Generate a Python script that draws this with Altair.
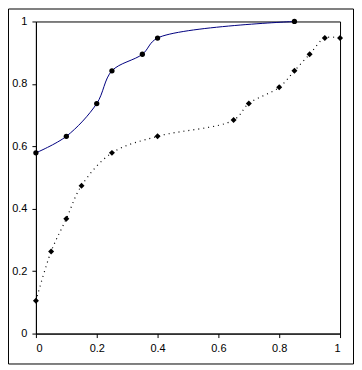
import altair as alt
import pandas as pd

# Series 1: solid navy, circle markers
s1_x = [0.0, 0.1, 0.2, 0.25, 0.35, 0.4, 0.85]
s1_y = [0.579, 0.632, 0.737, 0.842, 0.895, 0.947, 1.0]

# Series 2: dotted black, diamond markers
s2_x = [0.0, 0.05, 0.1, 0.15, 0.25, 0.4, 0.65, 0.7, 0.8, 0.85, 0.9, 0.95, 1.0]
s2_y = [0.105, 0.263, 0.368, 0.474, 0.579, 0.632, 0.684, 0.737, 0.789, 0.842, 0.895, 0.947, 0.947]

ticks = [0, 0.2, 0.4, 0.6, 0.8, 1]

df1 = pd.DataFrame({"x": s1_x, "y": s1_y})
df2 = pd.DataFrame({"x": s2_x, "y": s2_y})

W, H = 305, 313
PAD = {"left": 28, "top": 13, "right": 14, "bottom": 31}

xs = alt.Scale(domain=[0, 1], nice=False, zero=False)
ys = alt.Scale(domain=[0, 1], nice=False, zero=False)

xenc = alt.X("x:Q", scale=xs, axis=alt.Axis(values=ticks, format="~g", title=None, grid=False,
                                             tickSize=4, labelPadding=5, domainColor="black",
                                             tickColor="black", labelColor="black",
                                             labelFont="Liberation Sans", labelFontSize=11))
yenc = alt.Y("y:Q", scale=ys, axis=alt.Axis(values=ticks, format="~g", title=None, grid=False,
                                             tickSize=4, labelPadding=5, domainColor="black",
                                             tickColor="black", labelColor="black",
                                             labelFont="Liberation Sans", labelFontSize=11))

line1 = alt.Chart(df1).mark_line(color="#000080", strokeWidth=1, interpolate="catmull-rom", clip=False).encode(x=xenc, y=yenc)
pts1 = alt.Chart(df1).mark_point(shape="circle", filled=True, color="black", size=28, opacity=1, clip=False).encode(x="x:Q", y="y:Q")

line2 = alt.Chart(df2).mark_line(color="black", strokeWidth=1.2, strokeDash=[1, 4], interpolate="catmull-rom", clip=False).encode(x="x:Q", y="y:Q")
pts2 = alt.Chart(df2).mark_point(shape="diamond", filled=True, color="black", size=36, opacity=1, clip=False).encode(x="x:Q", y="y:Q")

border = alt.Chart(pd.DataFrame({"a": [0]})).mark_rect(fill=None, stroke="black", strokeWidth=1).encode(
    x=alt.value(-PAD["left"] + 0.5), x2=alt.value(W + PAD["right"] - 0.5),
    y=alt.value(-PAD["top"] + 0.5), y2=alt.value(H + PAD["bottom"] - 0.5))

chart = alt.layer(border, line1, line2, pts1, pts2).properties(
    width=W, height=H, padding=PAD, autosize=alt.AutoSizeParams(type="none"), background="white"
).configure_view(stroke="black", strokeWidth=1)

chart.save("out.html", embed_options={"renderer": "svg", "actions": False})
